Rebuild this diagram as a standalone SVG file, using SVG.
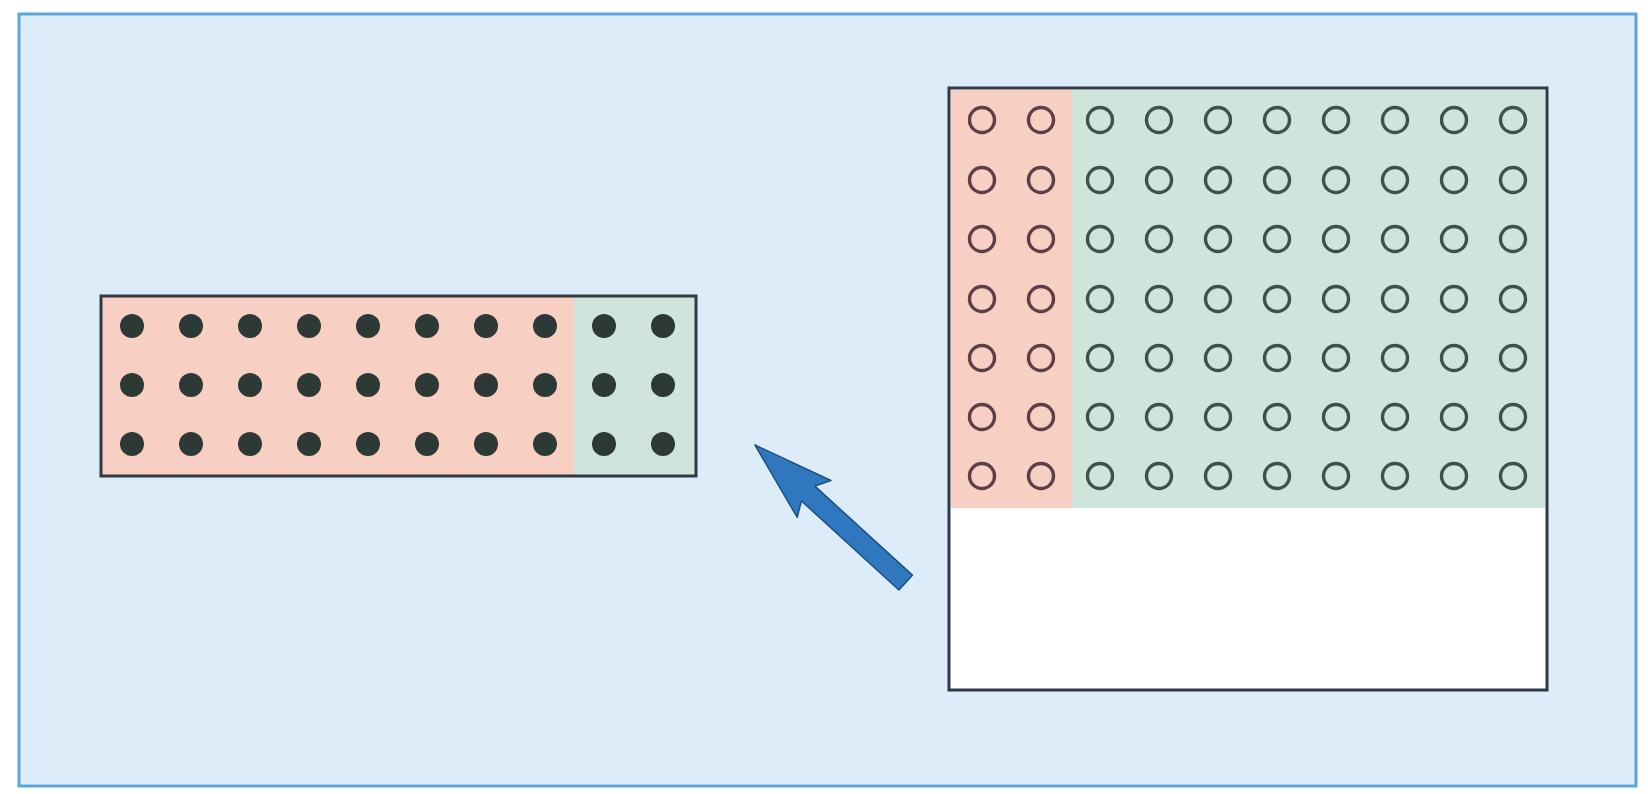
<svg xmlns="http://www.w3.org/2000/svg" width="1648" height="794" viewBox="0 0 1648 794">
  <defs>
    <style>
      .panel { fill: #dcecf9; stroke: #5aa6dc; stroke-width: 3; }
      .frame { fill: none; stroke: #2f3a44; stroke-width: 3; }
      .pink { fill: #f8cfc3; }
      .green { fill: #cfe5db; }
      .dot { fill: #2c3935; }
      .ring-p { fill: none; stroke: #5e3f47; stroke-width: 3.4; }
      .ring-g { fill: none; stroke: #3c524b; stroke-width: 3.4; }
      .arrow { fill: #2f78c0; stroke: #1f4f80; stroke-width: 1.5; stroke-linejoin: round; }
    </style>
    <!-- solid marker for the compact block -->
    <circle id="d" class="dot" r="12"/>
    <!-- hollow markers for the expanded block -->
    <circle id="rp" class="ring-p" r="12.5"/>
    <circle id="rg" class="ring-g" r="12.5"/>
  </defs>

  <rect x="0" y="0" width="1648" height="794" fill="#ffffff"/>
  <rect class="panel" x="19" y="14" width="1617" height="772"/>

  <!-- compact block: 3 rows x 10 columns -->
  <g id="compact">
    <rect class="pink" x="101" y="296" width="473" height="180"/>
    <rect class="green" x="574" y="296" width="122" height="180"/>
    <g>
      <use href="#d" x="132" y="326"/><use href="#d" x="191" y="326"/><use href="#d" x="250" y="326"/><use href="#d" x="309" y="326"/><use href="#d" x="368" y="326"/><use href="#d" x="427" y="326"/><use href="#d" x="486" y="326"/><use href="#d" x="545" y="326"/><use href="#d" x="604" y="326"/><use href="#d" x="663" y="326"/>
      <use href="#d" x="132" y="385"/><use href="#d" x="191" y="385"/><use href="#d" x="250" y="385"/><use href="#d" x="309" y="385"/><use href="#d" x="368" y="385"/><use href="#d" x="427" y="385"/><use href="#d" x="486" y="385"/><use href="#d" x="545" y="385"/><use href="#d" x="604" y="385"/><use href="#d" x="663" y="385"/>
      <use href="#d" x="132" y="444"/><use href="#d" x="191" y="444"/><use href="#d" x="250" y="444"/><use href="#d" x="309" y="444"/><use href="#d" x="368" y="444"/><use href="#d" x="427" y="444"/><use href="#d" x="486" y="444"/><use href="#d" x="545" y="444"/><use href="#d" x="604" y="444"/><use href="#d" x="663" y="444"/>
    </g>
    <rect class="frame" x="101" y="296" width="595" height="180"/>
  </g>

  <!-- expanded block: 7 rows x 10 columns, with empty space below -->
  <g id="expanded">
    <rect x="949" y="88" width="598" height="602" fill="#ffffff"/>
    <rect class="pink" x="951" y="90" width="121" height="418"/>
    <rect class="green" x="1072" y="90" width="473" height="418"/>
    <g>
      <use href="#rp" x="982" y="120"/><use href="#rp" x="1041" y="120"/><use href="#rg" x="1100" y="120"/><use href="#rg" x="1159" y="120"/><use href="#rg" x="1218" y="120"/><use href="#rg" x="1277" y="120"/><use href="#rg" x="1336" y="120"/><use href="#rg" x="1395" y="120"/><use href="#rg" x="1454" y="120"/><use href="#rg" x="1513" y="120"/>
      <use href="#rp" x="982" y="180"/><use href="#rp" x="1041" y="180"/><use href="#rg" x="1100" y="180"/><use href="#rg" x="1159" y="180"/><use href="#rg" x="1218" y="180"/><use href="#rg" x="1277" y="180"/><use href="#rg" x="1336" y="180"/><use href="#rg" x="1395" y="180"/><use href="#rg" x="1454" y="180"/><use href="#rg" x="1513" y="180"/>
      <use href="#rp" x="982" y="239"/><use href="#rp" x="1041" y="239"/><use href="#rg" x="1100" y="239"/><use href="#rg" x="1159" y="239"/><use href="#rg" x="1218" y="239"/><use href="#rg" x="1277" y="239"/><use href="#rg" x="1336" y="239"/><use href="#rg" x="1395" y="239"/><use href="#rg" x="1454" y="239"/><use href="#rg" x="1513" y="239"/>
      <use href="#rp" x="982" y="299"/><use href="#rp" x="1041" y="299"/><use href="#rg" x="1100" y="299"/><use href="#rg" x="1159" y="299"/><use href="#rg" x="1218" y="299"/><use href="#rg" x="1277" y="299"/><use href="#rg" x="1336" y="299"/><use href="#rg" x="1395" y="299"/><use href="#rg" x="1454" y="299"/><use href="#rg" x="1513" y="299"/>
      <use href="#rp" x="982" y="358"/><use href="#rp" x="1041" y="358"/><use href="#rg" x="1100" y="358"/><use href="#rg" x="1159" y="358"/><use href="#rg" x="1218" y="358"/><use href="#rg" x="1277" y="358"/><use href="#rg" x="1336" y="358"/><use href="#rg" x="1395" y="358"/><use href="#rg" x="1454" y="358"/><use href="#rg" x="1513" y="358"/>
      <use href="#rp" x="982" y="417"/><use href="#rp" x="1041" y="417"/><use href="#rg" x="1100" y="417"/><use href="#rg" x="1159" y="417"/><use href="#rg" x="1218" y="417"/><use href="#rg" x="1277" y="417"/><use href="#rg" x="1336" y="417"/><use href="#rg" x="1395" y="417"/><use href="#rg" x="1454" y="417"/><use href="#rg" x="1513" y="417"/>
      <use href="#rp" x="982" y="476"/><use href="#rp" x="1041" y="476"/><use href="#rg" x="1100" y="476"/><use href="#rg" x="1159" y="476"/><use href="#rg" x="1218" y="476"/><use href="#rg" x="1277" y="476"/><use href="#rg" x="1336" y="476"/><use href="#rg" x="1395" y="476"/><use href="#rg" x="1454" y="476"/><use href="#rg" x="1513" y="476"/>
    </g>
    <rect class="frame" x="949" y="88" width="598" height="602"/>
  </g>

  <!-- connector: block arrow pointing from the expanded block back to the compact one -->
  <g id="connectors">
    <g transform="translate(755 445) rotate(42.4)">
      <path class="arrow" d="M0 0 L80 -25 L72 -10 L204 -10 L204 10 L72 10 L80 25 Z"/>
    </g>
  </g>
</svg>
